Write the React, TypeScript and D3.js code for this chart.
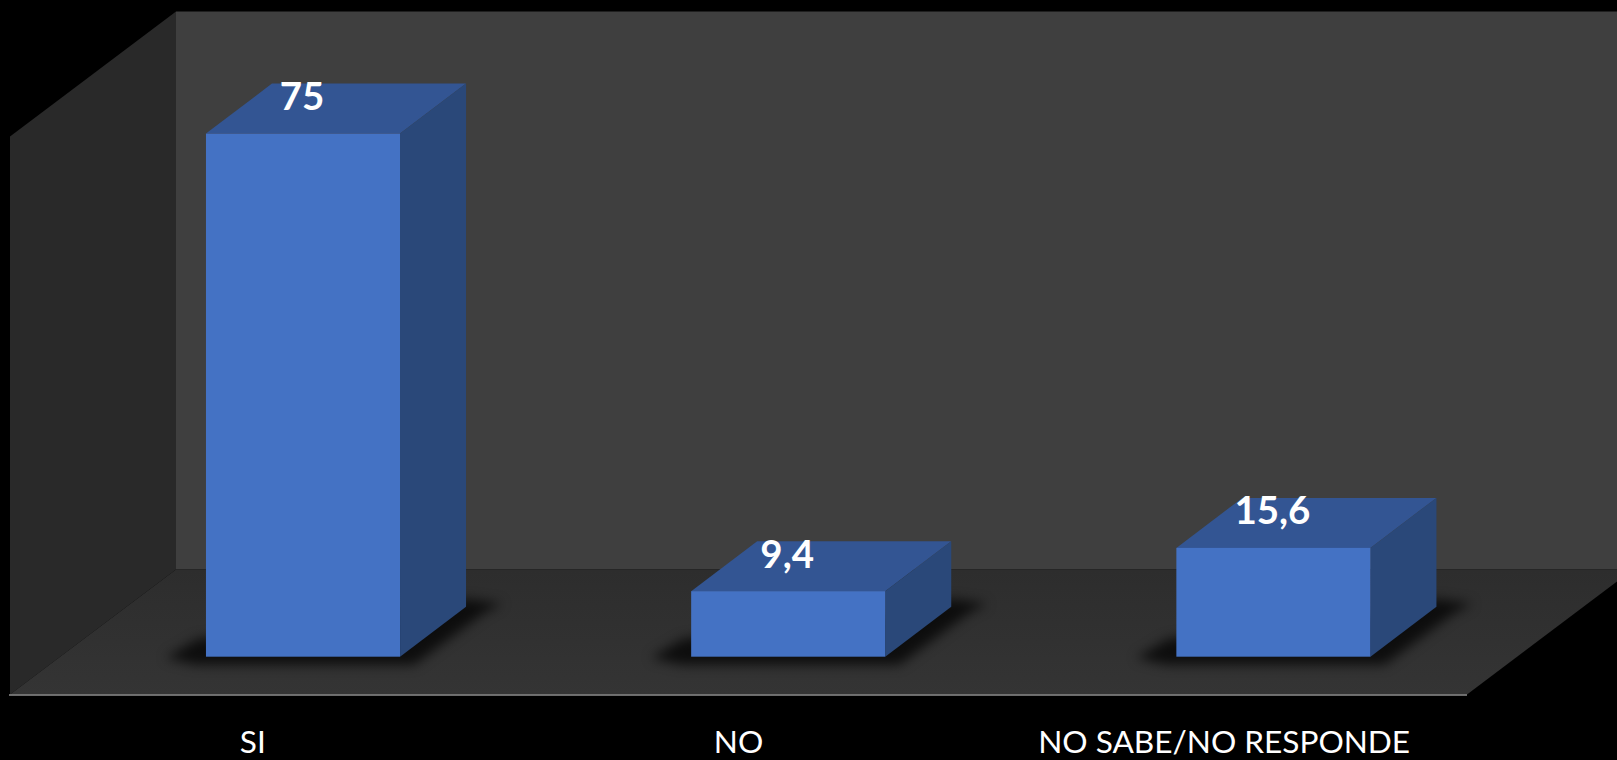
import React from "react";
import * as d3 from "d3";

const categories = ["SI", "NO", "NO SABE/NO RESPONDE"];
const values = [75, 9.4, 15.6];
const valueLabels = ["75", "9,4", "15,6"];

const W = 1617, H = 760;
const FONT = "Lato, Carlito, 'Open Sans', sans-serif";

// plot geometry
const floorFrontY = 694.5, floorBackY = 569.5, frontL = 10, frontR = 1467;
const wallDx = 166, barBaseY = 656.7, barDx = 66, barDy = 50;

const y = d3.scaleLinear().domain([0, 80]).range([0, 558]);
const xBar = d3.scaleBand<string>().domain(categories).range([60.4, 1516]).paddingInner(0.6).paddingOuter(0.3);
const xAxis = d3.scaleBand<string>().domain(categories).range([frontL, frontR]);

const poly = (pts: [number, number][]) => d3.line()(pts) + "Z";

export default function App() {
  const wallTop = floorBackY - y(80);
  return (
    <svg width={W} height={H} viewBox={`0 0 ${W} ${H}`}
      style={{ position: "fixed", left: 0, top: 0, display: "block", background: "#000" }}>
      <defs>
        <filter id="soft" filterUnits="userSpaceOnUse" x="0" y="400" width={W} height="360" colorInterpolationFilters="sRGB">
          <feGaussianBlur stdDeviation="6" />
        </filter>
        <linearGradient id="floorG" x1="0" x2="0" y1="0" y2="1">
          <stop offset="0" stopColor="#2d2d2d" />
          <stop offset="1" stopColor="#343434" />
        </linearGradient>
      </defs>
      <rect width={W} height={H} fill="#000" />
      {/* walls */}
      <path d={poly([[frontL + wallDx, wallTop], [W + 20, wallTop], [W + 20, floorBackY], [frontL + wallDx, floorBackY]])} fill="#3f3f3f" />
      <path d={poly([[frontL, floorFrontY - y(80)], [frontL + wallDx, wallTop], [frontL + wallDx, floorBackY], [frontL, floorFrontY]])} fill="#292929" />
      <path d={poly([[frontL, floorFrontY], [frontL + wallDx, floorBackY], [frontR + wallDx, floorBackY], [frontR, floorFrontY]])} fill="url(#floorG)" />

      {/* bars */}
      {categories.map((c) => {
        const x0 = xBar(c)!;
        const x1 = x0 + xBar.bandwidth();
        return (
          <path key={c}
            d={poly([[x0 - 40, barBaseY + 1], [x0 - 10, barBaseY + 8], [x1 + 14, barBaseY + 8], [x1 + barDx + 18, barBaseY - barDy + 6], [x1 + barDx + 36, barBaseY - barDy - 3], [x1 + barDx, barBaseY - barDy - 8], [x1, barBaseY - 40], [x0 - 8, barBaseY - 18]])}
            fill="#000" fillOpacity={0.72} filter="url(#soft)" />
        );
      })}
      {categories.map((c, i) => {
        const x0 = xBar(c)!;
        const x1 = x0 + xBar.bandwidth();
        const top = barBaseY - y(values[i]);
        return (
          <g key={c}>
            <path d={poly([[x0, top], [x0 + barDx, top - barDy], [x1 + barDx, top - barDy], [x1, top]])} fill="#335593" />
            <path d={poly([[x1, top], [x1 + barDx, top - barDy], [x1 + barDx, barBaseY - barDy], [x1, barBaseY]])} fill="#2a4879" />
            <rect x={x0} y={top} width={x1 - x0} height={y(values[i])} fill="#4472c4" />
            <text x={(x0 + x1) / 2 - 1} y={top - 23.6} textAnchor="middle" fontFamily={FONT} fontWeight={700} fontSize={38.5} fill="#fff">{valueLabels[i]}</text>
          </g>
        );
      })}

      {/* axis */}
      <line x1={frontL - 1} x2={frontR} y1={695} y2={695} stroke="#8f8f8f" strokeWidth={1.6} />
      {categories.map((c) => (
        <text key={c} x={xAxis(c)! + xAxis.bandwidth() / 2} y={753} textAnchor="middle" fontFamily={FONT} fontSize={31.6} fill="#fff">{c}</text>
      ))}
    </svg>
  );
}
